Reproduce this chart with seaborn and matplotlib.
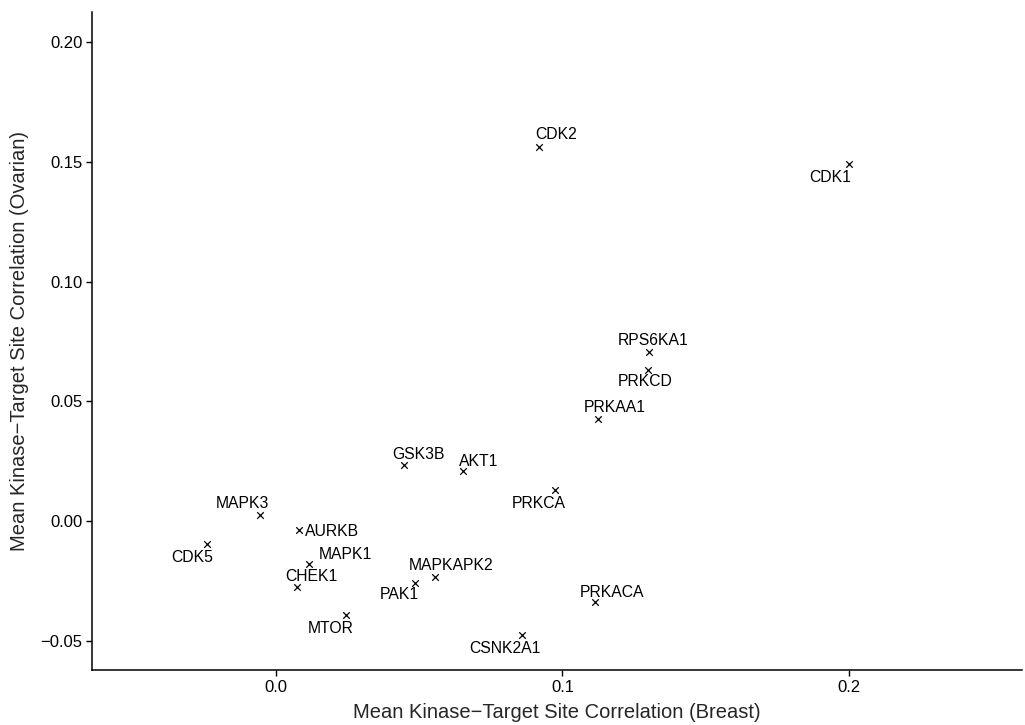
import matplotlib
matplotlib.use("Agg")
import matplotlib.pyplot as plt
import seaborn as sns
import pandas as pd

# Mean kinase-target site correlation per kinase
kinases = ["CDK2", "CDK1", "RPS6KA1", "PRKCD", "PRKAA1", "GSK3B", "AKT1",
           "PRKCA", "MAPK3", "AURKB", "CDK5", "MAPK1", "CHEK1", "MAPKAPK2",
           "PAK1", "PRKACA", "MTOR", "CSNK2A1"]
breast = [0.0919, 0.1999, 0.1302, 0.1300, 0.1125, 0.0448, 0.0654,
          0.0974, -0.0056, 0.0081, -0.0240, 0.0116, 0.0072, 0.0555,
          0.0486, 0.1113, 0.0244, 0.0860]
ovarian = [0.1563, 0.1490, 0.0708, 0.0633, 0.0425, 0.0233, 0.0208,
           0.0129, 0.0025, -0.0035, -0.0096, -0.0179, -0.0274, -0.0232,
           -0.0257, -0.0339, -0.0392, -0.0475]

x_ticks = [0.0, 0.1, 0.2]
x_tick_labels = ["0.0", "0.1", "0.2"]
y_ticks = [-0.05, 0.00, 0.05, 0.10, 0.15, 0.20]
y_tick_labels = ["\u22120.05", "0.00", "0.05", "0.10", "0.15", "0.20"]

# Label placement (pixel offsets from each point), repel-style
label_offsets = {
    "CDK2": (17, 12), "CDK1": (-18, -13), "RPS6KA1": (4, 11),
    "PRKCD": (-3, -12), "PRKAA1": (17, 12), "GSK3B": (14, 11),
    "AKT1": (15, 10), "PRKCA": (-16, -13), "MAPK3": (-17, 12),
    "AURKB": (33, -2), "CDK5": (-15, -13), "MAPK1": (36, 10),
    "CHEK1": (15, 10), "MAPKAPK2": (16, 11), "PAK1": (-16, -12),
    "PRKACA": (17, 10), "MTOR": (-15, -13), "CSNK2A1": (-17, -14),
}

df = pd.DataFrame({"kinase": kinases, "breast": breast, "ovarian": ovarian})

sns.set_theme(style="ticks")
plt.rcParams["font.family"] = ["Liberation Sans", "DejaVu Sans"]

fig = plt.figure(figsize=(10.25, 7.25), dpi=100)
ax = fig.add_axes([0.0898, 0.0759, 0.9072, 0.907])

sns.scatterplot(data=df, x="breast", y="ovarian", marker="x", s=22,
                color="black", linewidth=0.9, ax=ax, legend=False)

for name, bx, oy in zip(kinases, breast, ovarian):
    dx, dy = label_offsets[name]
    ax.annotate(name, (bx, oy), xytext=(dx, dy), textcoords="offset pixels",
                ha="center", va="center", fontsize=11.3, color="black")

ax.set_xlim(-0.0642, 0.2604)
ax.set_ylim(-0.0621, 0.2124)
ax.set_xticks(x_ticks)
ax.set_xticklabels(x_tick_labels)
ax.set_yticks(y_ticks)
ax.set_yticklabels(y_tick_labels)
ax.tick_params(axis="both", labelsize=12, colors="black", length=4,
               width=1.0, pad=3)
for side in ["left", "bottom"]:
    ax.spines[side].set_linewidth(1.1)
    ax.spines[side].set_color("black")
sns.despine(ax=ax)

ax.set_xlabel("Mean Kinase\u2212Target Site Correlation (Breast)",
              fontsize=14.5, labelpad=6)
ax.set_ylabel("Mean Kinase\u2212Target Site Correlation (Ovarian)",
              fontsize=14.5, labelpad=8)

fig.savefig("out.png", dpi=100, facecolor="white")
